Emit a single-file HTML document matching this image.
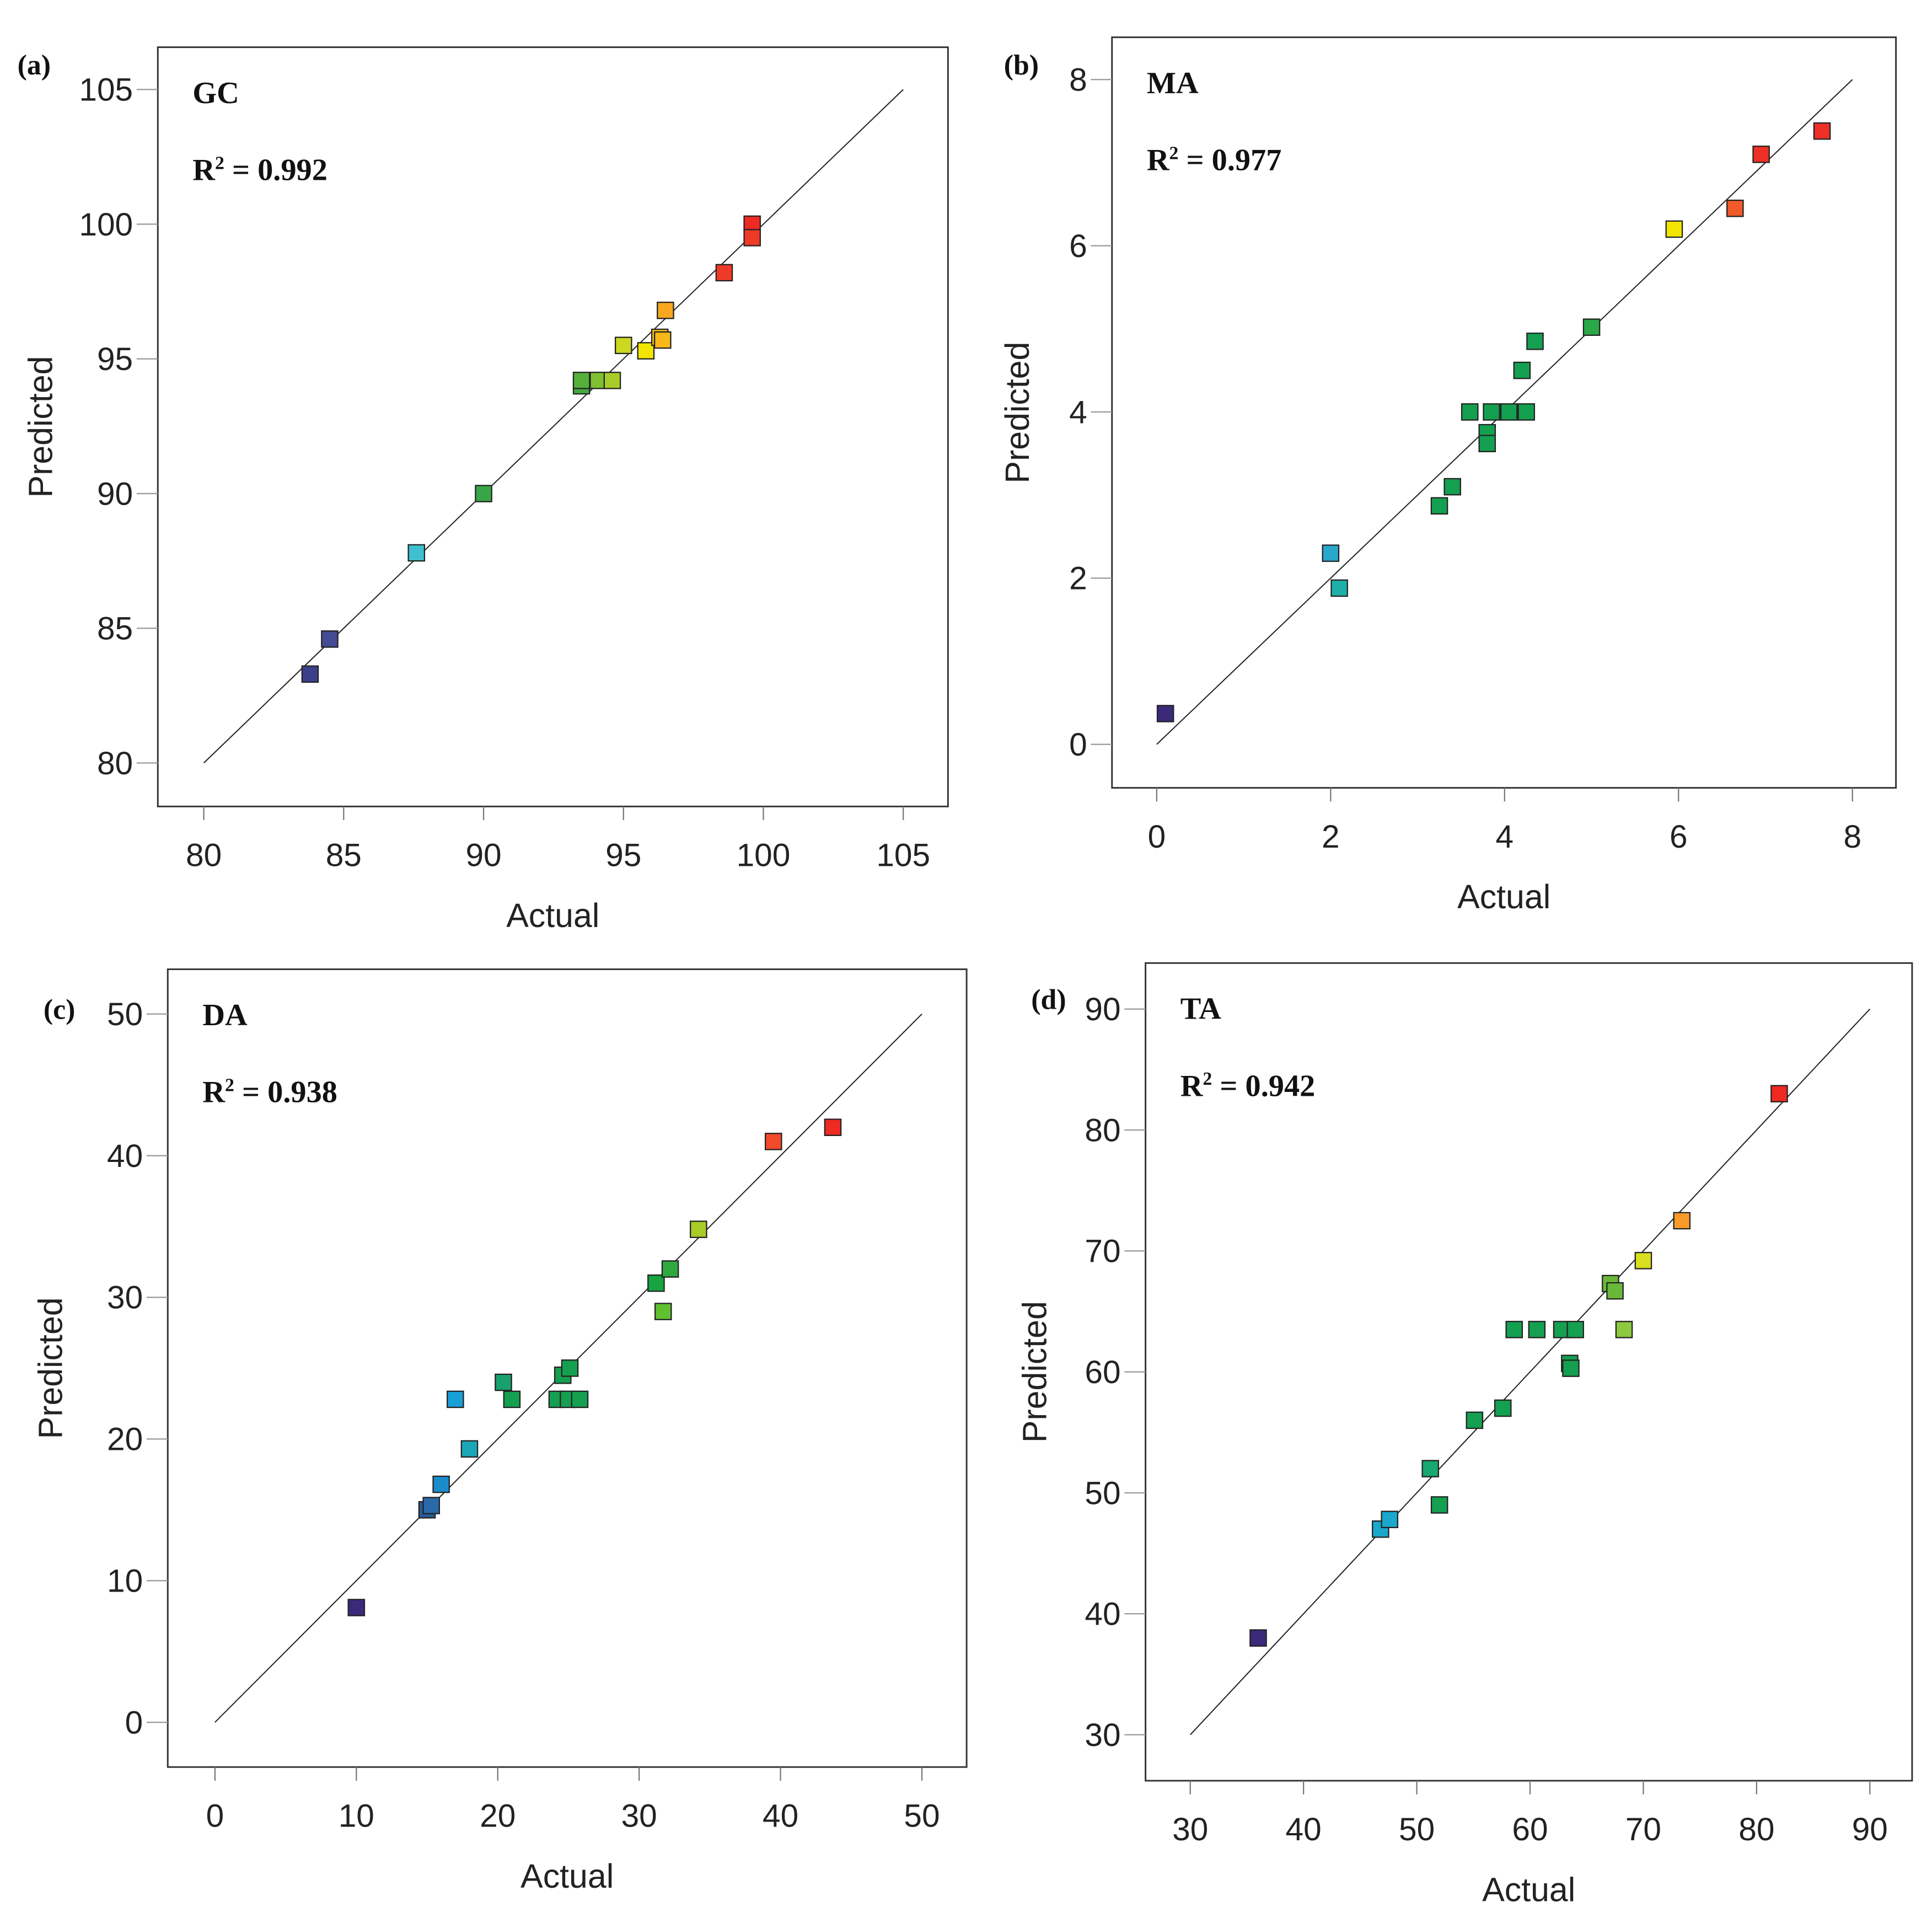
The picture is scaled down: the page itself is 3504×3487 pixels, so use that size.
<!DOCTYPE html>
<html><head><meta charset="utf-8"><style>
html,body{margin:0;padding:0;background:#fff}
svg{display:block}
.tk{font-family:"Liberation Sans",sans-serif;font-size:26px;fill:#222}
.ax{font-family:"Liberation Sans",sans-serif;font-size:27px;fill:#222}
.lb{font-family:"Liberation Serif",serif;font-weight:bold;font-size:25px;fill:#111}
.pl{font-family:"Liberation Serif",serif;font-weight:bold;font-size:23px;fill:#111}
</style></head><body>
<svg id="fig" width="3504" height="3487" viewBox="0 0 1555 1547.5" xmlns="http://www.w3.org/2000/svg"></svg>
<script>
// Panel (a) GC
const gcActual=[83.8,84.5,87.6,90,93.5,93.5,94.1,94.6,95,95.8,96.3,96.4,96.5,98.6,99.6,99.6];
const gcPred=[83.3,84.6,87.8,90,94.0,94.2,94.2,94.2,95.5,95.3,95.8,95.7,96.8,98.2,100,99.5];
const gcColor=['#3b3f8a','#454a94','#3fc0d0','#3aa548','#44a840','#55b03a','#80bf30','#a8cc28','#ccd820','#f2e600','#f5c010','#f8b818','#f7a820','#ef3a28','#ee2a22','#ee3a26'];
const gcTicks=[80,85,90,95,100,105];
// Panel (b) MA
const maActual=[0.1,2.0,2.1,3.25,3.4,3.6,3.8,3.8,3.85,4.05,4.25,4.2,4.35,5.0,5.95,6.65,6.95,7.65];
const maPred=[0.37,2.3,1.88,2.87,3.1,4.0,3.75,3.62,4.0,4.0,4.0,4.5,4.85,5.02,6.2,6.45,7.1,7.38];
const maColor=['#3b2a7a','#2aa8cc','#1cb0a8','#14a050','#14a050','#14a050','#14a050','#14a050','#14a050','#14a050','#14a050','#14a050','#14a050','#2aa848','#f2e600','#f25a2a','#ee3026','#ee3026'];
const maTicks=[0,2,4,6,8];
// Panel (c) DA
const daActual=[10,15,15.3,16,17,18,20.4,21,24.2,25,25.8,24.6,25.1,31.2,32.2,31.7,34.2,39.5,43.7];
const daPred=[8.1,15,15.3,16.8,22.8,19.3,24,22.8,22.8,22.8,22.8,24.5,25,31,32,29,34.8,41,42];
const daColor=['#3b2a7a','#2a5a9a','#2a6aaa','#1a8ccc','#1aa0d8','#1aa8b8','#18a070','#14a050','#14a050','#14a050','#14a050','#14a050','#14a050','#18a440','#30a840','#60c030','#a8cc28','#f24a2a','#ee2a22'];
const daTicks=[0,10,20,30,40,50];
// Panel (d) TA
const taActual=[36,46.8,47.6,51.2,52,55.1,57.6,58.6,60.6,62.8,64,63.5,63.6,67.1,67.5,68.3,70,73.4,82];
const taPred=[38,47,47.8,52,49,56,57,63.5,63.5,63.5,63.5,60.7,60.3,67.3,66.7,63.5,69.2,72.5,83];
const taColor=['#3b2a7a','#1aa8cc','#1aa8cc','#18a870','#14a050','#14a050','#14a050','#14a050','#14a050','#14a050','#14a050','#14a050','#14a050','#6ab83a','#6ab83a','#8cc840','#d8e020','#fa9a28','#ee2a22'];
const taTicks=[30,40,50,60,70,80,90];

const NS='http://www.w3.org/2000/svg';
const svg=document.getElementById('fig');
function mk(tag,attrs,parent,text){const e=document.createElementNS(NS,tag);for(const k in attrs)e.setAttribute(k,attrs[k]);if(text!==undefined)e.textContent=text;(parent||svg).appendChild(e);return e;}

function panel(cfg){
  const g=mk('g',{});
  
  
  const lo=cfg.ticks[0],hi=cfg.ticks[cfg.ticks.length-1];
  const sx=v=>cfg.x0+(v-lo)/(hi-lo)*(cfg.x1-cfg.x0);
  const sy=v=>cfg.y0-(v-lo)/(hi-lo)*(cfg.y0-cfg.y1);
  const box=mk('rect',{x:cfg.bl,y:cfg.bt,width:cfg.br-cfg.bl,height:cfg.bb-cfg.bt,fill:'none',stroke:'#333','stroke-width':1.3},g);
  
  
  cfg.ticks.forEach(t=>{
    const xl=mk('line',{x1:sx(t),x2:sx(t),y1:cfg.bb,y2:cfg.bb+11,stroke:'#777','stroke-width':1},g);
    
    
    const xt=mk('text',{x:sx(t),y:cfg.bb+48,'text-anchor':'middle',class:'tk'},g,String(t));
    
    
    const yl=mk('line',{x1:cfg.bl-17,x2:cfg.bl,y1:sy(t),y2:sy(t),stroke:'#999','stroke-width':1},g);
    
    
    const yt=mk('text',{x:cfg.bl-20,y:sy(t)+9,'text-anchor':'end',class:'tk'},g,String(t));
    
    
  });
  const dl=mk('line',{x1:sx(lo),y1:sy(lo),x2:sx(hi),y2:sy(hi),stroke:'#222','stroke-width':0.9},g);
  
  
  cfg.ax.forEach((a,i)=>{
    const r=mk('rect',{x:sx(a)-6.5,y:sy(cfg.pr[i])-6.5,width:13,height:13,fill:cfg.col[i],stroke:'#222','stroke-width':1},g);
    
    
  });
  const xa=mk('text',{x:(cfg.bl+cfg.br)/2,y:cfg.bb+97,'text-anchor':'middle',class:'ax'},g,'Actual');
  
  
  const yx=cfg.yTitleX,yy=(cfg.bt+cfg.bb)/2;
  const ya=mk('text',{x:yx,y:yy,'text-anchor':'middle',class:'ax',transform:`rotate(-90 ${yx} ${yy})`},g,'Predicted');
  
  
  const pl=mk('text',{x:cfg.plx,y:cfg.ply,class:'pl'},g,'('+cfg.id+')');
  
  
  const nm=mk('text',{x:cfg.bl+28,y:cfg.bt+45,class:'lb'},g,cfg.name);
  
  
  const r2=mk('text',{x:cfg.bl+28,y:cfg.bt+107,class:'lb'},g);
  
  
  mk('tspan',{},r2,'R');
  mk('tspan',{dy:-9,'font-size':15},r2,'2');
  mk('tspan',{dy:9},r2,' = '+cfg.r2);
}
panel({id:'a',name:'GC',r2:'0.992',ticks:gcTicks,ax:gcActual,pr:gcPred,col:gcColor,bl:127,br:763,bt:38,bb:649,x0:164,x1:727,y0:614,y1:72,yTitleX:42,plx:14,ply:60});
panel({id:'b',name:'MA',r2:'0.977',ticks:maTicks,ax:maActual,pr:maPred,col:maColor,bl:895,br:1526,bt:30,bb:634,x0:931,x1:1491,y0:599,y1:64,yTitleX:828,plx:808,ply:60});
panel({id:'c',name:'DA',r2:'0.938',ticks:daTicks,ax:daActual,pr:daPred,col:daColor,bl:135,br:778,bt:780,bb:1422,x0:173,x1:742,y0:1386,y1:816,yTitleX:50,plx:35,ply:820});
panel({id:'d',name:'TA',r2:'0.942',ticks:taTicks,ax:taActual,pr:taPred,col:taColor,bl:922,br:1539,bt:775,bb:1433,x0:958,x1:1505,y0:1396,y1:812,yTitleX:842,plx:830,ply:812});
</script>
</body></html>
